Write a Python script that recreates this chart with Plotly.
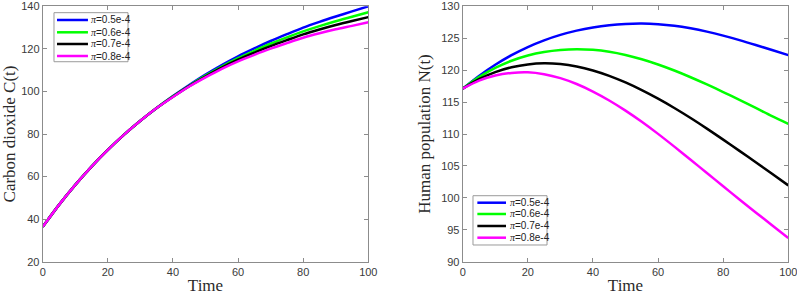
import plotly.graph_objects as go
from plotly.subplots import make_subplots

# ---------------- data ----------------
time = [0, 5, 10, 15, 20, 25, 30, 35, 40, 45, 50, 55, 60, 65, 70, 75, 80, 85, 90, 95, 100]

series_names = ["π=0.5e-4", "π=0.6e-4", "π=0.7e-4", "π=0.8e-4"]
series_colors = ["#0000ff", "#00ff00", "#000000", "#ff00ff"]

carbon_05 = [36.4, 46.7, 56.1, 64.7, 72.5, 79.7, 86.2, 92.2, 97.8, 103.0, 107.9, 112.4, 116.5, 120.2, 123.7, 126.9, 130.0, 132.7, 135.2, 137.6, 140.0]
carbon_06 = [36.4, 46.7, 56.1, 64.7, 72.5, 79.7, 86.2, 92.2, 97.7, 102.7, 107.4, 111.7, 115.6, 119.1, 122.4, 125.4, 128.2, 130.7, 133.0, 135.1, 137.2]
carbon_07 = [36.4, 46.7, 56.1, 64.7, 72.5, 79.7, 86.2, 92.2, 97.5, 102.5, 107.0, 111.2, 114.9, 118.2, 121.3, 124.1, 126.8, 129.1, 131.2, 133.1, 134.9]
carbon_08 = [36.4, 46.7, 56.1, 64.7, 72.5, 79.7, 86.2, 92.2, 97.4, 102.3, 106.6, 110.6, 114.1, 117.2, 120.1, 122.7, 125.2, 127.3, 129.2, 130.8, 132.5]

human_05 = [117.1, 119.1, 120.85, 122.35, 123.62, 124.67, 125.52, 126.19, 126.69, 127.04, 127.24, 127.3, 127.2, 126.95, 126.55, 126.03, 125.41, 124.71, 123.95, 123.15, 122.35]
human_06 = [117.1, 118.9, 120.35, 121.47, 122.29, 122.84, 123.16, 123.28, 123.18, 122.88, 122.38, 121.71, 120.89, 119.94, 118.89, 117.76, 116.57, 115.34, 114.08, 112.8, 111.6]
human_07 = [117.1, 118.6, 119.7, 120.45, 120.9, 121.07, 120.95, 120.57, 119.95, 119.11, 118.07, 116.87, 115.53, 114.07, 112.5, 110.84, 109.12, 107.36, 105.57, 103.76, 101.95]
human_08 = [117.1, 118.35, 119.15, 119.57, 119.67, 119.37, 118.75, 117.83, 116.65, 115.25, 113.66, 111.91, 110.02, 108.02, 105.97, 103.89, 101.81, 99.75, 97.72, 95.72, 93.7]

carbon_series = [carbon_05, carbon_06, carbon_07, carbon_08]
human_series = [human_05, human_06, human_07, human_08]

x_ticks = [0, 20, 40, 60, 80, 100]
carbon_ticks = [20, 40, 60, 80, 100, 120, 140]
human_ticks = [90, 95, 100, 105, 110, 115, 120, 125, 130]

# ---------------- figure ----------------
W, H = 797, 297
fig = make_subplots(rows=1, cols=2)

for name, color, ys in zip(series_names, series_colors, carbon_series):
    fig.add_trace(go.Scatter(x=time, y=ys, mode="lines", name=name,
                             line=dict(color=color, width=2.5, shape="spline", smoothing=0.8),
                             showlegend=False), row=1, col=1)
for name, color, ys in zip(series_names, series_colors, human_series):
    fig.add_trace(go.Scatter(x=time, y=ys, mode="lines", name=name,
                             line=dict(color=color, width=2.5, shape="spline", smoothing=0.8),
                             showlegend=False), row=1, col=2)

axis_grey = "#8c8c8c"
tick_font = dict(family="Liberation Sans, Arial, sans-serif", size=11, color="#3a3a3a")
title_font = dict(family="Liberation Serif, Times New Roman, serif", size=17, color="#2a2a2a")

common_x = dict(range=[0, 100], tickvals=x_ticks, showline=True, mirror="ticks", linecolor=axis_grey,
                linewidth=1, ticks="inside", ticklen=4, tickcolor=axis_grey, showgrid=False,
                zeroline=False, tickfont=tick_font, automargin=False, ticklabeloverflow="allow",
                title=dict(text="Time", font=title_font, standoff=2))
common_y = dict(showline=True, mirror="ticks", linecolor=axis_grey, linewidth=1, ticks="inside",
                ticklen=4, tickcolor=axis_grey, showgrid=False, zeroline=False, tickfont=tick_font,
                automargin=False, ticklabeloverflow="allow")

ydom = [35.3 / H, 290.7 / H]
fig.update_layout(
    width=W, height=H,
    margin=dict(l=0, r=0, t=0, b=0),
    paper_bgcolor="white", plot_bgcolor="white",
    showlegend=False,
    xaxis=dict(domain=[42.7 / W, 368.3 / W], **common_x),
    xaxis2=dict(domain=[462.7 / W, 788.3 / W], **common_x),
    yaxis=dict(domain=ydom, range=[20, 140], tickvals=carbon_ticks,
               title=dict(text="Carbon dioxide C(t)", font=title_font, standoff=2), **common_y),
    yaxis2=dict(domain=ydom, range=[90, 130], tickvals=human_ticks,
                title=dict(text="Human population N(t)", font=title_font, standoff=6), **common_y),
)

# ---------------- MATLAB-style compact legends ----------------
def add_legend(xref, yref, box, line_x, text_x, rows):
    fig.add_shape(type="rect", xref=xref, yref=yref, x0=box[0], x1=box[1], y0=box[2], y1=box[3],
                  line=dict(color="#9a9a9a", width=1), fillcolor="white", layer="above")
    for name, color, yy in zip(series_names, series_colors, rows):
        fig.add_shape(type="line", xref=xref, yref=yref, x0=line_x[0], x1=line_x[1], y0=yy, y1=yy,
                      line=dict(color=color, width=2.5), layer="above")
        sym, rest = name[0], name[1:]
        fig.add_annotation(xref=xref, yref=yref, x=text_x, y=yy, xanchor="left", yanchor="middle",
                           showarrow=False,
                           text=f"<span style='font-family:Liberation Serif, serif;font-style:italic'>{sym}</span>{rest}",
                           font=dict(family="Liberation Sans, Arial, sans-serif", size=10, color="#222222"))

add_legend("x domain", "y domain", [0.0347, 0.262, 0.783, 0.975], [0.044, 0.139], 0.143,
           [0.9464, 0.8982, 0.8524, 0.8054])
add_legend("x2 domain", "y2 domain", [0.0316, 0.259, 0.0654, 0.2584], [0.045, 0.133], 0.138,
           [0.231, 0.1868, 0.1398, 0.094])

fig.write_html("out.html")
